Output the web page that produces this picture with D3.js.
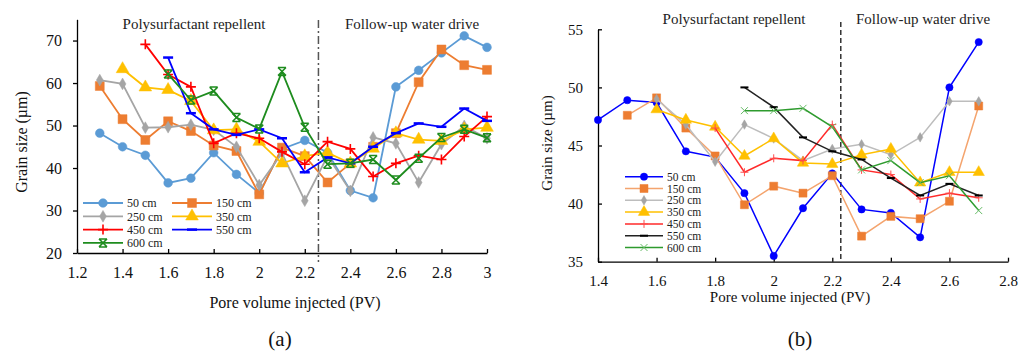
<!DOCTYPE html>
<html>
<head>
<meta charset="utf-8">
<script src="https://cdn.jsdelivr.net/npm/d3@7"></script>
<style>
  body { margin: 0; background: #fff; }
  svg, svg text { font-family: 'Liberation Serif', 'Times New Roman', Tinos, Times, 'DejaVu Serif', serif; }
</style>
</head>
<body>
<script>
// ---- data: panel (a) ----
const pvA = [1.3, 1.4, 1.5, 1.6, 1.7, 1.8, 1.9, 2.0, 2.1, 2.2, 2.3, 2.4, 2.5, 2.6, 2.7, 2.8, 2.9, 3.0];
const a50  = [48.2, 45, 43, 36.5, 37.6, 43.6, 38.5, 34.1, 44.5, 46.5, 43.6, 34.7, 33, 59.1, 63, 67.1, 71.1, 68.4];
const a150 = [59.3, 51.5, 46.6, 51, 48.7, 45.3, 44, 33.8, 44.8, 42.8, 36.6, 41.1, 45, 48.2, 60.2, 67.9, 64.2, 63.1];
const a250 = [60.7, 59.8, 49.5, 49.6, 50.2, 49, 45, 36, 43.5, 32.3, 42.8, 34.6, 47.2, 45.8, 36.6, 45.6, 49.9, 47];
const a350 = [null, 63.3, 59, 58.4, 55.8, 48.9, 49.1, 46.2, 41.1, 42.8, 43.6, 41.1, 44.6, 48.2, 46.7, 46.4, 49.1, 49.5];
const a450 = [null, null, 69.1, 62, 59.1, 45.8, 48.2, 47, 43.8, 40.9, 46.2, 44.5, 38, 41.1, 42.9, 42, 47.4, 52.1];
const a550 = [null, null, null, 66, 52.9, 49.1, 47.8, 49.1, 47, 39, 42.5, 41.1, 45, 48.2, 50.5, 49.7, 54, 51.1];
const a600 = [null, null, null, 62.1, 56, 58.1, 51.9, 49.2, 62.7, 49.6, 40.9, 41.1, 42, 37.2, 42.3, 47.2, 49.1, 47.1];

// ---- data: panel (b) ----
const pvB = [1.4, 1.5, 1.6, 1.7, 1.8, 1.9, 2.0, 2.1, 2.2, 2.3, 2.4, 2.5, 2.6, 2.7];
const b50  = [47.2, 48.9, 48.7, 44.5, 44, 40.9, 35.5, 39.6, 42.6, 39.5, 39.2, 37.1, 50, 53.9];
const b150 = [null, 47.6, 49.1, 46.5, 44.1, 39.9, 41.5, 40.9, 42.4, 37.2, 38.9, 38.7, 40.2, 48.4];
const b250 = [null, null, 49, 46.8, 43.6, 46.8, 45.6, 43.7, 44.7, 45.1, 44.2, 45.7, 48.8, 48.8];
const b350 = [null, null, 48.1, 47.2, 46.6, 44.1, 45.6, 43.5, 43.4, 44.2, 44.7, 41.8, 42.7, 42.7];
const b450 = [null, null, null, null, 46.5, 42.7, 43.9, 43.7, 46.8, 42.9, 42.5, 40.4, 40.9, 40.5];
const b550 = [null, null, null, null, null, 50, 48.3, 45.7, 44.5, 43.8, 42.2, 40.7, 41.7, 40.7];
const b600 = [null, null, null, null, null, 48, 48, 48.2, 46.6, 42.9, 43.7, 41.8, 42.4, 39.4];

const seriesNames = ['50 cm', '150 cm', '250 cm', '350 cm', '450 cm', '550 cm', '600 cm'];
const xTicksA = [1.2, 1.4, 1.6, 1.8, 2.0, 2.2, 2.4, 2.6, 2.8, 3.0];
const yTicksA = [20, 30, 40, 50, 60, 70];
const xTicksB = [1.4, 1.6, 1.8, 2.0, 2.2, 2.4, 2.6, 2.8];
const yTicksB = [35, 40, 45, 50, 55];
const phaseLabels = ['Polysurfactant repellent', 'Follow-up water drive'];
const xTitle = 'Pore volume injected (PV)';
const yTitle = 'Grain size (µm)';

const FONT = "'Liberation Serif', 'Times New Roman', Tinos, Times, 'DejaVu Serif', serif";

const svg = d3.select('body').append('svg')
    .attr('width', 1031)
    .attr('height', 352)
    .attr('font-family', FONT);

// marker shapes, s = size scale
function markerPath(kind, s) {
    if (kind === 'plus') return `M${-s},0H${s}M0,${-s}V${s}`;
    if (kind === 'x') return `M${-s},${-s}L${s},${s}M${s},${-s}L${-s},${s}`;
    if (kind === 'xbar') return `M${-s},${-s}L${s},${s}M${s},${-s}L${-s},${s}M${-s},${-s}H${s}M${-s},${s}H${s}`;
    if (kind === 'dash') return `M${-s},0H${s}`;
    const types = { circle: d3.symbolCircle, square: d3.symbolSquare, diamond: d3.symbolDiamond, triangle: d3.symbolTriangle };
    return d3.symbol().type(types[kind]).size(s)();
}

const fmt = d => String(+d.toFixed(1));

function drawPanel(p) {
    const x = d3.scaleLinear().domain(p.xDomain).range(p.xRange);
    const y = d3.scaleLinear().domain(p.yDomain).range(p.yRange);
    const g = svg.append('g');

    // axes
    const xAxis = d3.axisBottom(x).tickValues(p.xTicks).tickFormat(fmt)
        .tickSizeInner(-4).tickSizeOuter(0).tickPadding(p.xPad);
    const yAxis = d3.axisLeft(y).tickValues(p.yTicks).tickFormat(fmt)
        .tickSizeInner(p.yTickSize).tickSizeOuter(0).tickPadding(p.yPad);

    const gx = g.append('g')
        .attr('transform', `translate(0,${y(p.yDomain[0])})`)
        .call(xAxis);
    const gy = g.append('g')
        .attr('transform', `translate(${x(p.xDomain[0])},0)`)
        .call(yAxis);
    [gx, gy].forEach(a => {
        a.attr('font-family', FONT).attr('font-size', p.tickFont);
        a.selectAll('path, line').attr('stroke', '#000').attr('stroke-width', 1.3);
        a.selectAll('text').attr('fill', '#111');
    });

    // phase divider
    g.append('line')
        .attr('x1', x(p.divider)).attr('x2', x(p.divider))
        .attr('y1', p.divTop).attr('y2', y(p.yDomain[0]) + p.divBelow)
        .attr('stroke', p.divColor).attr('stroke-width', 1.5)
        .attr('stroke-dasharray', p.divDash);

    // phase labels
    g.selectAll('.phase')
        .data(phaseLabels)
        .enter()
        .append('text')
        .attr('x', (d, i) => p.phaseX[i])
        .attr('y', p.phaseY)
        .attr('text-anchor', 'middle')
        .attr('font-size', 15)
        .attr('fill', '#222')
        .text(d => d);

    // series
    p.series.forEach(s => {
        const pts = p.pv.map((v, i) => ({ pv: v, val: s.values[i] })).filter(d => d.val != null);
        const line = d3.line()
            .x(d => x(d.pv))
            .y(d => y(d.val));
        g.append('path')
            .datum(pts)
            .attr('fill', 'none')
            .attr('stroke', s.line)
            .attr('stroke-width', p.lineWidth)
            .attr('d', line);
        const filled = !['plus', 'x', 'xbar', 'dash'].includes(s.marker);
        g.selectAll(null)
            .data(pts)
            .enter()
            .append('path')
            .attr('transform', d => `translate(${x(d.pv)},${y(d.val)})`)
            .attr('d', markerPath(s.marker, s.size))
            .attr('fill', filled ? s.color : 'none')
            .attr('stroke', s.color)
            .attr('stroke-width', filled ? 0.5 : s.mw);
    });

    // legend
    const lg = g.append('g');
    p.series.forEach((s, i) => {
        const pos = p.legendPos(i);
        lg.append('line')
            .attr('x1', pos.x).attr('x2', pos.x + p.legLen)
            .attr('y1', pos.y).attr('y2', pos.y)
            .attr('stroke', s.line).attr('stroke-width', p.lineWidth);
        const filled = !['plus', 'x', 'xbar', 'dash'].includes(s.marker);
        lg.append('path')
            .attr('transform', `translate(${pos.x + p.legLen / 2},${pos.y})`)
            .attr('d', markerPath(s.marker, s.size))
            .attr('fill', filled ? s.color : 'none')
            .attr('stroke', s.color)
            .attr('stroke-width', filled ? 0.5 : s.mw);
        lg.append('text')
            .attr('x', pos.x + p.legLen + 4)
            .attr('y', pos.y)
            .attr('dy', '0.35em')
            .attr('font-size', p.legFont)
            .attr('fill', '#222')
            .text(seriesNames[i]);
    });

    // axis titles
    g.append('text')
        .attr('x', p.xTitle[0]).attr('y', p.xTitle[1])
        .attr('text-anchor', 'middle')
        .attr('dy', '0.35em')
        .attr('font-size', p.titleFont)
        .attr('fill', '#111')
        .text(xTitle);
    g.append('text')
        .attr('transform', `translate(${p.yTitle[0]},${p.yTitle[1]}) rotate(-90)`)
        .attr('text-anchor', 'middle')
        .attr('dy', '0.35em')
        .attr('font-size', p.titleFont)
        .attr('fill', '#111')
        .text(yTitle);

    // panel tag
    g.append('text')
        .attr('x', p.tag[0]).attr('y', p.tag[1])
        .attr('text-anchor', 'middle')
        .attr('dy', '0.35em')
        .attr('font-size', 21)
        .attr('fill', '#111')
        .text(p.tag[2]);
}

drawPanel({
    pv: pvA,
    xDomain: [1.2, 3.0], xRange: [77, 487],
    yDomain: [20, 75], yRange: [253, 19.3],
    xTicks: xTicksA, yTicks: yTicksA,
    xPad: 14, yTickSize: 4, yPad: 11, tickFont: 16,
    divider: 2.26, divTop: 20, divBelow: 9, divColor: '#555', divDash: '8,3,2,3',
    phaseX: [194, 412], phaseY: 29,
    lineWidth: 1.8,
    series: [
        { values: a50,  color: '#5B9BD5', line: '#5B9BD5', marker: 'circle',   size: 60 },
        { values: a150, color: '#ED7D31', line: '#ED7D31', marker: 'square',   size: 80 },
        { values: a250, color: '#A5A5A5', line: '#A5A5A5', marker: 'diamond',  size: 40 },
        { values: a350, color: '#FFC000', line: '#FFC000', marker: 'triangle', size: 70 },
        { values: a450, color: '#FF0000', line: '#FF0000', marker: 'plus',     size: 5, mw: 1.6 },
        { values: a550, color: '#0000FF', line: '#0000FF', marker: 'dash',     size: 5, mw: 2.5 },
        { values: a600, color: '#1E8C1E', line: '#1E8C1E', marker: 'xbar',     size: 4, mw: 1.5 }
    ],
    legendPos: i => ({ x: i % 2 === 0 ? 83 : 172, y: 203 + Math.floor(i / 2) * 13.3 }),
    legLen: 40, legFont: 12,
    xTitle: [295, 302], yTitle: [21, 142], titleFont: 16,
    tag: [280, 339, '(a)']
});

drawPanel({
    pv: pvB,
    xDomain: [1.4, 2.8], xRange: [598, 1008],
    yDomain: [35, 55], yRange: [261.7, 29.3],
    xTicks: xTicksB, yTicks: yTicksB,
    xPad: 14, yTickSize: -4, yPad: 15, tickFont: 15,
    divider: 2.229, divTop: 22, divBelow: 0, divColor: '#333', divDash: '5,3',
    phaseX: [734, 923], phaseY: 24,
    lineWidth: 1.5,
    series: [
        { values: b50,  color: '#0000FF', line: '#0000FF', marker: 'circle',   size: 42 },
        { values: b150, color: '#ED7D31', line: '#F4A46E', marker: 'square',   size: 64 },
        { values: b250, color: '#A5A5A5', line: '#BDBDBD', marker: 'diamond',  size: 26 },
        { values: b350, color: '#FFC000', line: '#FFC000', marker: 'triangle', size: 56 },
        { values: b450, color: '#FF4D4D', line: '#FF2A2A', marker: 'plus',     size: 4, mw: 1 },
        { values: b550, color: '#000000', line: '#222222', marker: 'dash',     size: 4, mw: 2 },
        { values: b600, color: '#66BB66', line: '#2E9B2E', marker: 'x',        size: 3.5, mw: 1 }
    ],
    legendPos: i => ({ x: 625, y: 176.7 + i * 11.8 }),
    legLen: 38, legFont: 11.5,
    xTitle: [790, 297], yTitle: [547, 143], titleFont: 15,
    tag: [800, 339, '(b)']
});
</script>
</body>
</html>
